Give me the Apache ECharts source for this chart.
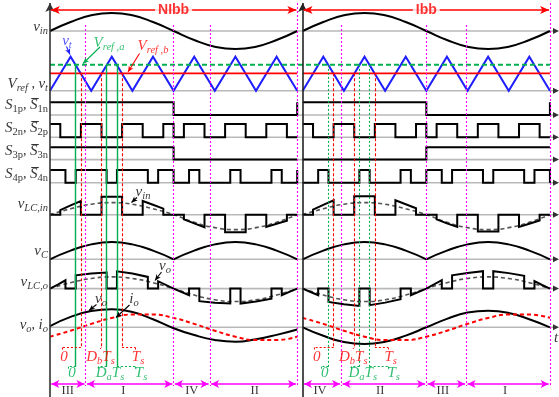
<!DOCTYPE html>
<html>
<head>
<meta charset="utf-8">
<script src="https://cdn.jsdelivr.net/npm/echarts@6.0.0/dist/echarts.min.js"></script>
<style>
  html, body { margin: 0; padding: 0; background: #fff; }
  #chart { width: 559px; height: 397px; }
</style>
</head>
<body>
<div id="chart"></div>
<script>
// ---------------------------------------------------------------
// Time is measured in switching periods Ts. Each operating section
// (non-inverting buck-boost, then inverting buck-boost) spans 6 Ts.
// ---------------------------------------------------------------
const SEC_LEN = 6;
const SEC2 = 6.134;                 // start of the second section on the shared time axis

// line-frequency sample instants (every half switching period)
const tHalf = [0, 0.5, 1, 1.5, 2, 2.5, 3, 3.5, 4, 4.5, 5, 5.5, 6];
const tArch = [0, 0.5, 1, 1.5, 2, 2.5, 3];

// input voltage (identical in both sections)
const vIn = [0, 0.5, 0.87, 1, 0.87, 0.5, 0, -0.5, -0.87, -1, -0.87, -0.5, 0];
// local average of v_LC,in (dashed)
const vLcInAvg = [0, 0.33, 0.58, 0.67, 0.58, 0.33, 0, -0.42, -0.72, -0.83, -0.72, -0.42, 0];
// capacitor voltage, one arch per half line period
const vCArch = [0, 0.48, 0.83, 0.96, 0.83, 0.48, 0];
// output voltage / current
const vO1 = [0.07, 0.58, 0.9, 1, 0.85, 0.45, -0.05, -0.43, -0.7, -0.8, -0.66, -0.42, -0.12];
const vO2 = [0, -0.47, -0.82, -0.93, -0.8, -0.46, 0, 0.47, 0.82, 0.92, 0.8, 0.45, 0];
const iO1 = [-0.52, -0.19, 0.19, 0.52, 0.71, 0.71, 0.52, 0.19, -0.19, -0.52, -0.71, -0.71, -0.52];
const iO2 = [0.52, 0.19, -0.19, -0.52, -0.71, -0.71, -0.52, -0.19, 0.19, 0.52, 0.71, 0.71, 0.52];
// local average of v_LC,o (dashed)
const vLcOAvg1 = [0, 0.33, 0.56, 0.65, 0.56, 0.33, 0, -0.36, -0.62, -0.72, -0.62, -0.36, 0];
const vLcOAvg2 = [0, -0.36, -0.62, -0.72, -0.62, -0.36, 0, 0.33, 0.56, 0.65, 0.56, 0.33, 0];

// triangular carrier and the two references (fraction of carrier peak)
const vtCarrier = [0, 1, 0, 1, 0, 1, 0, 1, 0, 1, 0, 1, 0];
const VREF_A = 0.76;
const VREF_B = 0.51;

// gate signals: [time, level] change points
const s1p1 = [[0, 1], [3, 0], [6, 0], [6, 1]];
const s1p2 = [[0, 1], [3, 0], [6, 0], [6, 1]];
const s2n1 = [[0, 1], [0.25, 0], [0.75, 1], [1.25, 0], [1.75, 1], [2.25, 0], [2.75, 1], [3, 0], [3.25, 1], [3.75, 0], [4.25, 1], [4.75, 0], [5.25, 1], [5.75, 0], [6, 0]];
const s2n2 = [[0, 1], [0.25, 0], [0.75, 1], [1.25, 0], [1.75, 1], [2.25, 0], [2.75, 1], [3, 0], [3.25, 1], [3.75, 0], [4.25, 1], [4.75, 0], [5.25, 1], [5.75, 0], [6, 0]];
const s3p1 = [[0, 1], [3, 0], [6, 0]];
const s3p2 = [[0, 0], [3, 1], [6, 1]];
const s4p1 = [[0, 1], [0.375, 0], [0.625, 1], [1.375, 0], [1.625, 1], [2.375, 0], [2.625, 1], [3, 0], [3.375, 1], [3.625, 0], [4.375, 1], [4.625, 0], [5.375, 1], [5.625, 0], [6, 0], [6, 1]];
const s4p2 = [[0, 0], [0.375, 1], [0.625, 0], [1.375, 1], [1.625, 0], [2.375, 1], [2.625, 0], [3, 1], [3.375, 0], [3.625, 1], [4.375, 0], [4.625, 1], [5.375, 0], [5.625, 1], [6, 1], [6, 0]];

// bridge-side voltage v_LC,in: [time, value] vertices
const vLcIn1 = [[0, 0], [0.25, 0], [0.25, 0.26], [0.5, 0.52], [0.75, 0.76], [0.75, 0], [1.25, 0], [1.25, 1], [1.75, 1], [1.75, 0], [2.25, 0], [2.25, 0.76], [2.5, 0.55], [2.75, 0.34], [2.75, 0], [3.25, 0], [3.25, -0.26], [3.5, -0.48], [3.75, -0.7], [3.75, 0], [4.25, 0], [4.25, -0.98], [4.75, -0.98], [4.75, 0], [5.25, 0], [5.25, -0.68], [5.5, -0.5], [5.75, -0.34], [5.75, 0], [6, 0]];
const vLcIn2 = [[0, 0], [0.25, 0], [0.25, 0.28], [0.5, 0.55], [0.75, 0.8], [0.75, 0], [1.25, 0], [1.25, 1.02], [1.75, 1.02], [1.75, 0], [2.25, 0], [2.25, 0.8], [2.5, 0.58], [2.75, 0.36], [2.75, 0], [3.25, 0], [3.25, -0.26], [3.5, -0.48], [3.75, -0.68], [3.75, 0], [4.25, 0], [4.25, -0.94], [4.75, -0.94], [4.75, 0], [5.25, 0], [5.25, -0.68], [5.5, -0.5], [5.75, -0.32], [5.75, 0], [6, 0]];
// load-side voltage v_LC,o
const vLcO1 = [[0, 0], [0.19, 0.22], [0.375, 0.46], [0.375, 0], [0.625, 0], [0.625, 0.74], [1, 0.84], [1.375, 0.89], [1.375, 0], [1.625, 0], [1.625, 0.96], [2, 0.84], [2.375, 0.65], [2.375, 0], [2.625, 0], [2.625, 0.41], [3, 0], [3.375, -0.37], [3.375, 0], [3.625, 0], [3.625, -0.7], [4, -0.78], [4.375, -0.83], [4.375, 0], [4.625, 0], [4.625, -0.83], [5, -0.72], [5.375, -0.56], [5.375, 0], [5.625, 0], [5.625, -0.37], [5.81, -0.18], [6, 0]];
const vLcO2 = [[0, 0], [0.19, -0.19], [0.375, -0.37], [0.375, 0], [0.625, 0], [0.625, -0.74], [1, -0.87], [1.375, -0.96], [1.375, 0], [1.625, 0], [1.625, -0.92], [2, -0.78], [2.375, -0.59], [2.375, 0], [2.625, 0], [2.625, -0.37], [3, 0], [3.375, 0.47], [3.375, 0], [3.625, 0], [3.625, 0.74], [4, 0.87], [4.375, 0.97], [4.375, 0], [4.625, 0], [4.625, 0.97], [5, 0.86], [5.375, 0.71], [5.375, 0], [5.625, 0], [5.625, 0.41], [5.81, 0.2], [6, 0]];

// switching instants marked by vertical guides (within a section)
const tCrossA = [0.625, 1.375, 1.625];
const tCrossB = [0.75, 1.25, 1.75];
// operating-mode boundaries and names
const modeEdges1 = [0, 0.867, 3, 3.88, 6];
const modeNames1 = ['III', 'I', 'IV', 'II'];
const modeLabelT1 = [0.43, 1.78, 3.44, 4.97];
const modeEdges2 = [0, 0.937, 3, 3.97, 6];
const modeNames2 = ['IV', 'II', 'III', 'I'];
const modeLabelT2 = [0.42, 1.88, 3.40, 4.91];
const sectionNames = ['NIbb', 'Ibb'];

// ---------------------------------------------------------------
// layout: vertical position (px from top) of each trace baseline
// and the px size of one unit of that trace
// ---------------------------------------------------------------
const rows = {
  vin:   { base: 31,    scale: 18 },
  vt:    { base: 90.7,  scale: 34 },
  s1:    { base: 115,   scale: 12.7 },
  s2:    { base: 137.3, scale: 13.2 },
  s3:    { base: 159.6, scale: 12.3 },
  s4:    { base: 182.7, scale: 12.7 },
  vlcin: { base: 214.7, scale: 18 },
  vc:    { base: 259.3, scale: 18 },
  vlco:  { base: 288.6, scale: 18 },
  vo:    { base: 327.3, scale: 18 }
};
const PX_PER_T = 41.2;
const X_MIN = -50 / PX_PER_T;
const X_MAX = 509 / PX_PER_T;
const tAt = px => (px - 50) / PX_PER_T;      // placement helper for annotations

const SERIF = '"Liberation Serif","Times New Roman",serif';
const SANS = '"Liberation Sans",Arial,sans-serif';
const MAG = '#ff00ff', RED = '#ff0000', GRN = '#00b050', BLU = '#1e1eff', BLK = '#000';

const off = sec => (sec === 2 ? SEC2 : 0);
const Y = (row, v) => row.base - v * row.scale;
const sampled = (ts, vs, row, sec) => ts.map((t, i) => [t + off(sec), Y(row, vs[i])]);
const pairs = (arr, row, sec) => arr.map(([t, v]) => [t + off(sec), Y(row, v)]);

const series = [];
function addLine(data, color, width, dash, extra) {
  series.push(Object.assign({
    type: 'line', data, symbol: 'none', silent: true, animation: false, z: 3,
    lineStyle: { color, width, type: dash || 'solid', cap: 'butt', join: 'miter' }
  }, extra || {}));
}

// ---- row baselines with small arrowheads --------------------------------
const BASE_END = tAt(554);
Object.values(rows).forEach(r => addLine([[0, r.base], [BASE_END, r.base]], '#b9b9b9', 1.6, 'solid', { z: 1 }));
series.push({
  type: 'scatter', silent: true, animation: false, z: 4,
  symbol: 'triangle', symbolRotate: -90, symbolSize: [6, 6],
  itemStyle: { color: BLK },
  data: Object.values(rows).map(r => [tAt(556), r.base])
});

// ---- waveforms for both sections ----------------------------------------
[1, 2].forEach(sec => {
  const o = off(sec);
  // v_in
  addLine(sampled(tHalf, vIn, rows.vin, sec), BLK, 2, 'solid', { smooth: 0.5 });
  // carrier and references
  addLine(sampled(tHalf, vtCarrier, rows.vt, sec), BLU, 2);
  addLine([[o, Y(rows.vt, VREF_B)], [o + SEC_LEN, Y(rows.vt, VREF_B)]], RED, 1.8, 'solid', { z: 4 });
  // gate signals
  addLine(pairs(sec === 1 ? s1p1 : s1p2, rows.s1, sec), BLK, 2, 'solid', { step: 'end' });
  addLine(pairs(sec === 1 ? s2n1 : s2n2, rows.s2, sec), BLK, 2, 'solid', { step: 'end' });
  addLine(pairs(sec === 1 ? s3p1 : s3p2, rows.s3, sec), BLK, 2, 'solid', { step: 'end' });
  addLine(pairs(sec === 1 ? s4p1 : s4p2, rows.s4, sec), BLK, 2, 'solid', { step: 'end' });
  // v_LC,in
  addLine(sampled(tHalf, vLcInAvg, rows.vlcin, sec), '#555', 1.6, [4, 3], { smooth: 0.5 });
  addLine(pairs(sec === 1 ? vLcIn1 : vLcIn2, rows.vlcin, sec), BLK, 2, 'solid', { z: 4 });
  // v_C arches
  addLine(sampled(tArch, vCArch, rows.vc, sec), BLK, 2, 'solid', { smooth: 0.5 });
  addLine(sampled(tArch.map(t => t + 3), vCArch, rows.vc, sec), BLK, 2, 'solid', { smooth: 0.5 });
  // v_LC,o
  addLine(sampled(tHalf, sec === 1 ? vLcOAvg1 : vLcOAvg2, rows.vlco, sec), '#555', 1.6, [4, 3], { smooth: 0.5 });
  addLine(pairs(sec === 1 ? vLcO1 : vLcO2, rows.vlco, sec), BLK, 2, 'solid', { z: 4 });
  // v_o, i_o
  addLine(sampled(tHalf, sec === 1 ? vO1 : vO2, rows.vo, sec), BLK, 2, 'solid', { smooth: 0.5 });
  addLine(sampled(tHalf, sec === 1 ? iO1 : iO2, rows.vo, sec), RED, 2, [4, 3], { smooth: 0.5 });
});
// V_ref,a dashed runs through both sections
addLine([[0, Y(rows.vt, VREF_A)], [SEC2 + SEC_LEN, Y(rows.vt, VREF_A)]], GRN, 2, [5, 3], { z: 4 });

// ---- straight guide segments, arrows and brackets (markLine) ------------
const segs = [];
function seg(x1, y1, x2, y2, color, width, dash, sym, size) {
  segs.push([
    { coord: [x1, y1], symbol: (sym && sym[0]) || 'none', symbolSize: size || 6,
      lineStyle: { color, width, type: dash || 'solid' } },
    { coord: [x2, y2], symbol: (sym && sym[1]) || 'none', symbolSize: size || 6 }
  ]);
}

// vertical axes
seg(0, 397, 0, 3, '#333', 1.6, 'solid', ['none', 'arrow'], [7, 9]);
seg(SEC2, 397, SEC2, 3, '#222', 1.6, 'solid', ['none', 'arrow'], [7, 9]);

[1, 2].forEach(sec => {
  const o = off(sec);
  const edges = sec === 1 ? modeEdges1 : modeEdges2;
  // mode boundaries
  edges.slice(1).forEach((t, i) => {
    const last = i === edges.length - 2;
    seg(o + t, last ? 3 : 25, o + t, 386, MAG, 1.1, [2, 2]);
  });
  // mode arrows
  for (let i = 0; i < edges.length - 1; i++) {
    seg(o + edges[i] + 0.03, 384, o + edges[i + 1] - 0.03, 384, MAG, 1.6, 'solid', ['arrow', 'arrow'], [6, 8]);
  }
  // section span arrow at the top
  seg(o + 0.02, 10, o + SEC_LEN - 0.02, 10, RED, 1.6, 'solid', ['arrow', 'arrow'], [6, 9]);

  // switching guides with bracket leaders to the 0 / D·Ts / Ts marks
  const gDash = sec === 1 ? 'solid' : [2, 2];
  const gW = sec === 1 ? 1.4 : 1.1;
  const yA = Y(rows.vt, VREF_A), yB = Y(rows.vt, VREF_B);
  const yGA = 366.7, yGB = 347.5;
  // V_ref,a crossings (green)
  seg(o + tCrossA[0], yA, o + tCrossA[0], yGA, GRN, gW, gDash);
  seg(o + tCrossA[0], yGA, o + 0.44, yGA, GRN, 1, [2, 2]);
  seg(o + 0.44, yGA, o + 0.44, yGA + 3, GRN, 1, [2, 2]);
  seg(o + tCrossA[1], yA, o + tCrossA[1], yGA, GRN, gW, gDash);
  seg(o + tCrossA[1], yGA, o + 1.17, yGA, GRN, 1, [2, 2]);
  seg(o + 1.17, yGA, o + 1.17, yGA + 3, GRN, 1, [2, 2]);
  seg(o + tCrossA[2], yA, o + tCrossA[2], yGA, GRN, gW, gDash);
  seg(o + tCrossA[2], yGA, o + 2.07, yGA, GRN, 1, [2, 2]);
  seg(o + 2.07, yGA, o + 2.07, yGA + 3, GRN, 1, [2, 2]);
  // V_ref,b crossings (red)
  seg(o + tCrossB[0], yB, o + tCrossB[0], yGB, RED, 1.1, [3, 2]);
  seg(o + tCrossB[0], yGB, o + 0.29, yGB, RED, 1, [2, 2]);
  seg(o + 0.29, yGB, o + 0.29, yGB + 4, RED, 1, [2, 2]);
  seg(o + tCrossB[1], yB, o + tCrossB[1], yGB, RED, 1.1, [3, 2]);
  seg(o + tCrossB[1], yGB, o + 1.18, yGB + 3, RED, 1, [2, 2]);
  seg(o + tCrossB[2], yB, o + tCrossB[2], yGB, RED, 1.1, [3, 2]);
  seg(o + tCrossB[2], yGB, o + 2.07, yGB, RED, 1, [2, 2]);
  seg(o + 2.07, yGB, o + 2.07, yGB + 4, RED, 1, [2, 2]);
});

// pointer arrows for the in-plot names
seg(tAt(66.5), 46.5, tAt(70), 54.5, BLU, 1.1, 'solid', ['none', 'arrow'], [4, 6]);
seg(tAt(100), 47, tAt(83), 63.5, GRN, 1.1, 'solid', ['none', 'arrow'], [4, 6]);
seg(tAt(139.5), 53.5, tAt(128), 72, RED, 1.1, 'solid', ['none', 'arrow'], [4, 6]);
seg(tAt(137), 197.5, tAt(131.5), 202.5, BLK, 1.1, 'solid', ['none', 'arrow'], [4, 6]);
seg(tAt(161.5), 272, tAt(155), 280.5, BLK, 1.1, 'solid', ['none', 'arrow'], [4, 6]);
seg(tAt(96.5), 304.5, tAt(89), 310.5, BLK, 1.1, 'solid', ['none', 'arrow'], [4, 6]);
seg(tAt(129.5), 305, tAt(116), 317.5, BLK, 1.1, 'solid', ['none', 'arrow'], [4, 6]);

series.push({
  type: 'line', data: [], silent: true, animation: false, z: 5,
  markLine: { silent: true, animation: false, label: { show: false }, emphasis: { disabled: true }, data: segs }
});

// ---- text ---------------------------------------------------------------
function rich(c) {
  return {
    i: { fontFamily: SERIF, fontStyle: 'italic', fontSize: 15, color: c },
    s: { fontFamily: SERIF, fontStyle: 'italic', fontSize: 10.5, color: c, padding: [8, 0, 0, 0] },
    u: { fontFamily: SERIF, fontSize: 10.5, color: c, padding: [8, 0, 0, 0] },
    n: { fontFamily: SERIF, fontSize: 14, color: c },
    r: { fontFamily: SERIF, fontSize: 12.5, color: c },
    b: { fontFamily: SANS, fontWeight: 'bold', fontSize: 14, color: c, backgroundColor: '#fff', padding: [0, 3] }
  };
}
function addText(t, y, fmt, color, align) {
  series.push({
    type: 'scatter', data: [[t, y]], symbolSize: 0, silent: true, animation: false, z: 10,
    itemStyle: { color: 'rgba(0,0,0,0)' },
    label: {
      show: true, position: [0, 0], formatter: fmt, rich: rich(color || BLK),
      align: align || 'center', verticalAlign: 'middle'
    }
  });
}

// trace names on the left
const LX = tAt(48);
addText(LX, 27, '{i|v}{s|in}', BLK, 'right');
addText(LX, 84, '{i|V}{s|ref}{n| , }{i|v}{s|t}', BLK, 'right');
addText(LX, 105, '{i|S}{u|1p}{n|, }{i|S\u0305}{u|1n}', BLK, 'right');
addText(LX, 128, '{i|S}{u|2n}{n|, }{i|S\u0305}{u|2p}', BLK, 'right');
addText(LX, 151, '{i|S}{u|3p}{n|, }{i|S\u0305}{u|3n}', BLK, 'right');
addText(LX, 174, '{i|S}{u|4p}{n|, }{i|S\u0305}{u|4n}', BLK, 'right');
addText(LX, 204, '{i|v}{s|LC,in}', BLK, 'right');
addText(LX, 251, '{i|v}{s|C}', BLK, 'right');
addText(LX, 282, '{i|v}{s|LC,o}', BLK, 'right');
addText(LX, 325, '{i|v}{s|o}{n|, }{i|i}{s|o}', BLK, 'right');
addText(tAt(556), 338, '{i|t}', BLK, 'center');

// in-plot names
addText(tAt(67), 41, '{i|v}{s|t}', BLU);
addText(tAt(109), 43, '{i|V}{s|ref ,a}', GRN);
addText(tAt(153), 46, '{i|V}{s|ref ,b}', RED);
addText(tAt(143), 192, '{i|v}{s|in}', BLK);
addText(tAt(165), 266, '{i|v}{s|o}', BLK);
addText(tAt(101), 299, '{i|v}{s|o}', BLK);
addText(tAt(134), 299, '{i|i}{s|o}', BLK);

// duty-cycle marks under the switching guides
[1, 2].forEach(sec => {
  const o = off(sec);
  addText(o + tAt(64) , 357, '{i|0}', RED);
  addText(o + tAt(100.5), 357, '{i|D}{s|b}{i|T}{s|s}', RED);
  addText(o + tAt(138), 357, '{i|T}{s|s}', RED);
  addText(o + tAt(72), 373, '{i|0}', GRN);
  addText(o + tAt(110), 373, '{i|D}{s|a}{i|T}{s|s}', GRN);
  addText(o + tAt(141), 373, '{i|T}{s|s}', GRN);
});

// mode names and section names
modeNames1.forEach((n, i) => addText(modeLabelT1[i], 391, '{r|' + n + '}', BLK));
modeNames2.forEach((n, i) => addText(SEC2 + modeLabelT2[i], 391, '{r|' + n + '}', BLK));
addText(3, 10, '{b|' + sectionNames[0] + '}', RED);
addText(SEC2 + 3, 10, '{b|' + sectionNames[1] + '}', RED);

const chart = echarts.init(document.getElementById('chart'), null, { renderer: 'canvas' });
chart.setOption({
  animation: false,
  grid: { left: 0, right: 0, top: 0, bottom: 0 },
  xAxis: { type: 'value', min: X_MIN, max: X_MAX, show: false },
  yAxis: { type: 'value', min: 0, max: 397, inverse: true, show: false },
  series
});
</script>
</body>
</html>
